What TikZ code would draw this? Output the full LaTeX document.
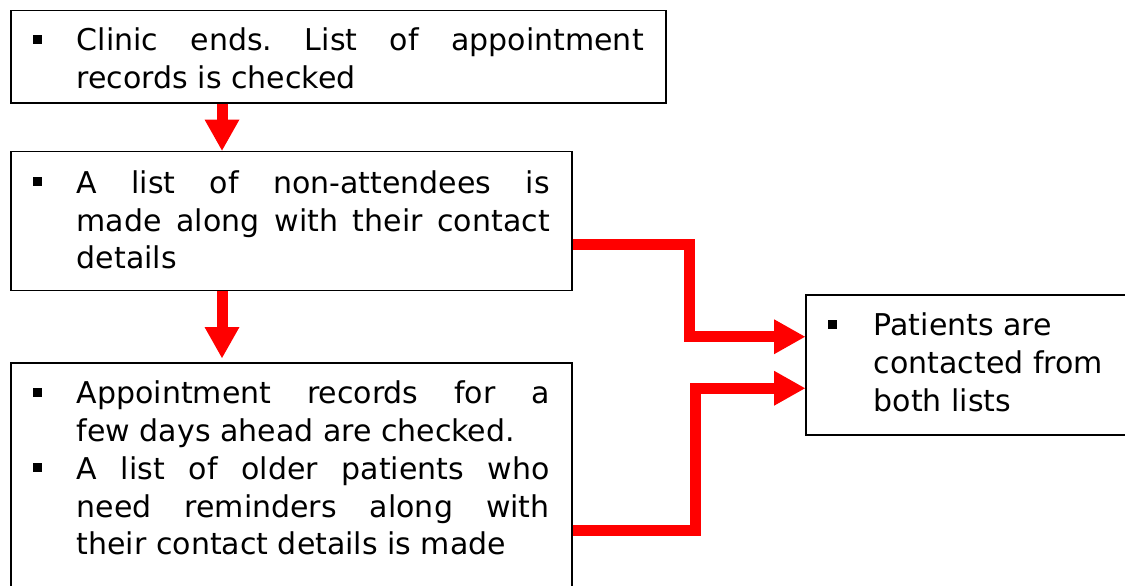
\documentclass[tikz,border=0pt]{standalone}
\usepackage{fontspec}
\setmainfont{DejaVu Sans}
\usepackage{tikz}
\usetikzlibrary{arrows.meta,positioning}

\frenchspacing
\newcommand{\sqbullet}{\rule[7pt]{9pt}{9pt}}
\newcommand{\bitem}[1]{\hangindent=#1\hangafter=1\noindent\makebox[#1][l]{\sqbullet}}

\begin{document}
\begin{tikzpicture}[x=1pt,y=1pt,
			step box/.style={draw,line width=1.5pt,inner xsep=22pt,inner ysep=4pt,
				font=\fontsize{30}{37.8}\selectfont},
			flow line/.style={draw=red,line width=11pt,line join=miter,
				-{Triangle[length=31pt,width=35pt,line width=0pt]}}]
			
			\useasboundingbox (0,0) rectangle (1125,-586);
			
			\node[step box,anchor=north west,text width=611pt,minimum height=92pt,
				text height=25pt,text depth=37pt,align=justify] (1) at (10,-10)
			{\bitem{44pt}Clinic ends. List of appointment\linebreak records is checked\par};
			\node[step box,below=47pt of 1.south west,anchor=north west,text width=517pt,minimum height=139pt,
				text height=25pt,text depth=80pt,align=justify] (2)
			{\bitem{44pt}A list of non-attendees is\linebreak made along with their contact\linebreak details\par};
			\node[step box,below=71pt of 2.south west,anchor=north west,text width=517pt,inner ysep=6pt,
				text height=35pt,text depth=250pt,align=justify] (3)
			{\bitem{44pt}Appointment records for a\linebreak few days ahead are checked.\par
				\bitem{44pt}A list of older patients who\linebreak need reminders along with\linebreak their contact details is made\par};
			\node[step box,anchor=north west,text width=290pt,minimum height=140pt,
				text height=25pt,text depth=83pt,align=justify] (4) at (805,-294)
			{\bitem{46pt}Patients are\newline contacted from\newline both lists\par};
			
			\draw[flow line] ([xshift=212pt]1.south west) -- ([xshift=212pt]2.north west);
			\draw[flow line] ([xshift=212pt]2.south west) -- ([xshift=212pt,yshift=4pt]3.north west);
			\draw[flow line] ([yshift=-93.5pt]2.north east) -- ++(117pt,0) |- ([yshift=28pt]4.west);
			\draw[flow line] ([yshift=-168.5pt]3.north east) -- ++(123pt,0) |- ([yshift=-23.5pt]4.west);
			
			\end{tikzpicture}
\end{document}
